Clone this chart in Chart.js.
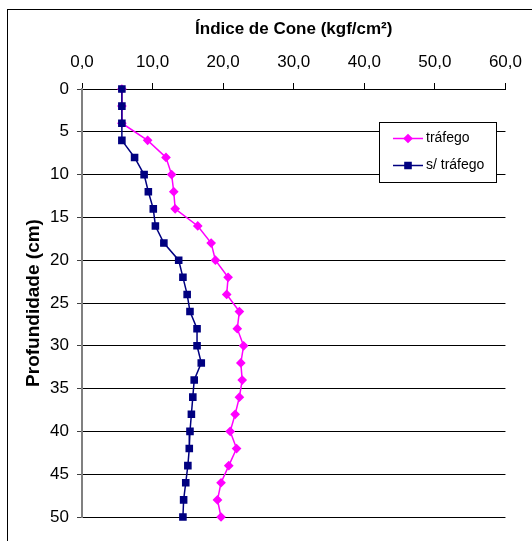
<!DOCTYPE html>
<html>
<head>
<meta charset="utf-8">
<script src="https://cdn.jsdelivr.net/npm/chart.js@4.4.1/dist/chart.umd.min.js"></script>
<style>
  html, body { margin: 0; padding: 0; background: #fff; }
  #wrap { position: relative; width: 532px; height: 541px; }
</style>
</head>
<body>
<div id="wrap"><canvas id="chart" width="532" height="541"></canvas></div>
<script>
const depths = [0, 2, 4, 6, 8, 10, 12, 14, 16, 18, 20, 22, 24, 26, 28, 30, 32, 34, 36, 38, 40, 42, 44, 46, 48, 50];
const trafego = [5.65, 5.65, 5.65, 9.3, 11.9, 12.7, 13.0, 13.2, 16.4, 18.3, 18.9, 20.7, 20.5, 22.3, 22.0, 22.9, 22.5, 22.7, 22.3, 21.7, 21.0, 21.9, 20.8, 19.7, 19.2, 19.7];
const semTrafego = [5.65, 5.65, 5.65, 5.65, 7.45, 8.8, 9.4, 10.1, 10.4, 11.6, 13.7, 14.3, 14.9, 15.3, 16.3, 16.3, 16.9, 15.9, 15.7, 15.5, 15.3, 15.2, 15.0, 14.7, 14.4, 14.3];
const xTicks = [0, 10, 20, 30, 40, 50, 60];
const yTicks = [0, 5, 10, 15, 20, 25, 30, 35, 40, 45, 50];

const toPoints = (vals) => vals.map((v, i) => ({ x: v, y: depths[i] }));
const fmt = (v) => v.toFixed(1).replace('.', ',');

// outer frame + legend box drawn on the canvas
const framePlugin = {
    id: 'frame',
    beforeDraw(chart) {
        const ctx = chart.ctx;
        ctx.save();
        ctx.fillStyle = '#fff';
        ctx.fillRect(0, 0, chart.width, chart.height);
        ctx.strokeStyle = '#000';
        ctx.lineWidth = 1;
        ctx.strokeRect(7.5, 9.5, 700, 700);
        ctx.restore();
    },
    afterDraw(chart) {
        const ctx = chart.ctx;
        const box = { x: 379.5, y: 122.5, w: 117, h: 60 };
        ctx.save();
        ctx.fillStyle = '#fff';
        ctx.fillRect(box.x, box.y, box.w, box.h);
        ctx.strokeStyle = '#000';
        ctx.lineWidth = 1;
        ctx.strokeRect(box.x, box.y, box.w, box.h);
        const rows = [
            { ds: chart.data.datasets[0], y: 138.5 },
            { ds: chart.data.datasets[1], y: 165.5 }
        ];
        ctx.font = '14px "Liberation Sans", Arial, sans-serif';
        ctx.textBaseline = 'middle';
        rows.forEach(r => {
            ctx.strokeStyle = r.ds.borderColor;
            ctx.lineWidth = 1.5;
            ctx.beginPath();
            ctx.moveTo(393, r.y);
            ctx.lineTo(423, r.y);
            ctx.stroke();
            Chart.helpers.drawPoint(ctx, {
                pointStyle: r.ds.pointStyle,
                radius: r.ds.pointRadius,
                borderWidth: 1
            }, 408, r.y);
            ctx.fillStyle = r.ds.pointBackgroundColor;
            ctx.fill();
            ctx.fillStyle = '#000';
            ctx.fillText(r.ds.label, 426, r.y);
        });
        ctx.restore();
    }
};

const data = {
    datasets: [{
        label: 'tráfego',
        data: toPoints(trafego),
        borderColor: '#FF00FF',
        backgroundColor: '#FF00FF',
        pointBackgroundColor: '#FF00FF',
        pointBorderColor: '#FF00FF',
        pointStyle: 'rectRot',
        pointRadius: 3.8,
        borderWidth: 1.5,
        tension: 0,
        order: 1,
        clip: false
    }, {
        label: 's/ tráfego',
        data: toPoints(semTrafego),
        borderColor: '#000080',
        backgroundColor: '#000080',
        pointBackgroundColor: '#000080',
        pointBorderColor: '#000080',
        pointStyle: 'rect',
        pointRadius: 4.3,
        borderWidth: 1.5,
        tension: 0,
        order: 0,
        clip: false
    }]
};

const config = {
    type: 'line',
    data: data,
    plugins: [framePlugin],
    options: {
        responsive: false,
        animation: false,
        indexAxis: 'y',
        layout: { padding: { left: 0, top: 0, right: 20, bottom: 24 } },
        plugins: {
            legend: { display: false },
            tooltip: { enabled: false }
        },
        scales: {
            x: {
                type: 'linear',
                position: 'top',
                min: 0,
                max: 60,
                afterBuildTicks: (s) => { s.ticks = xTicks.map(v => ({ value: v })); },
                afterFit: (s) => { s.height = 89; },
                ticks: {
                    color: '#000',
                    padding: 10,
                    maxRotation: 0,
                    font: { family: '"Liberation Sans", Arial, sans-serif', size: 17 },
                    callback: (v) => fmt(v)
                },
                grid: { drawOnChartArea: false, drawTicks: true, tickLength: 6, color: '#000' },
                border: { display: true, color: '#000', width: 1 },
                title: {
                    display: true,
                    text: 'Índice de Cone (kgf/cm²)',
                    color: '#000',
                    padding: { top: 19, bottom: 0 },
                    font: { family: '"Liberation Sans", Arial, sans-serif', size: 17, weight: 'bold' }
                }
            },
            y: {
                type: 'linear',
                reverse: true,
                min: 0,
                max: 50,
                afterBuildTicks: (s) => { s.ticks = yTicks.map(v => ({ value: v })); },
                afterFit: (s) => { s.width = 82; },
                ticks: {
                    color: '#000',
                    padding: 8,
                    font: { family: '"Liberation Sans", Arial, sans-serif', size: 17 }
                },
                grid: { color: '#000', lineWidth: 1, tickLength: 5, tickColor: '#404040' },
                border: { display: true, color: '#808080', width: 2 },
                title: {
                    display: true,
                    text: 'Profundidade (cm)',
                    color: '#000',
                    padding: { top: 22, bottom: 0 },
                    font: { family: '"Liberation Sans", Arial, sans-serif', size: 19, weight: 'bold' }
                }
            }
        }
    }
};

new Chart(document.getElementById('chart').getContext('2d'), config);
</script>
</body>
</html>
